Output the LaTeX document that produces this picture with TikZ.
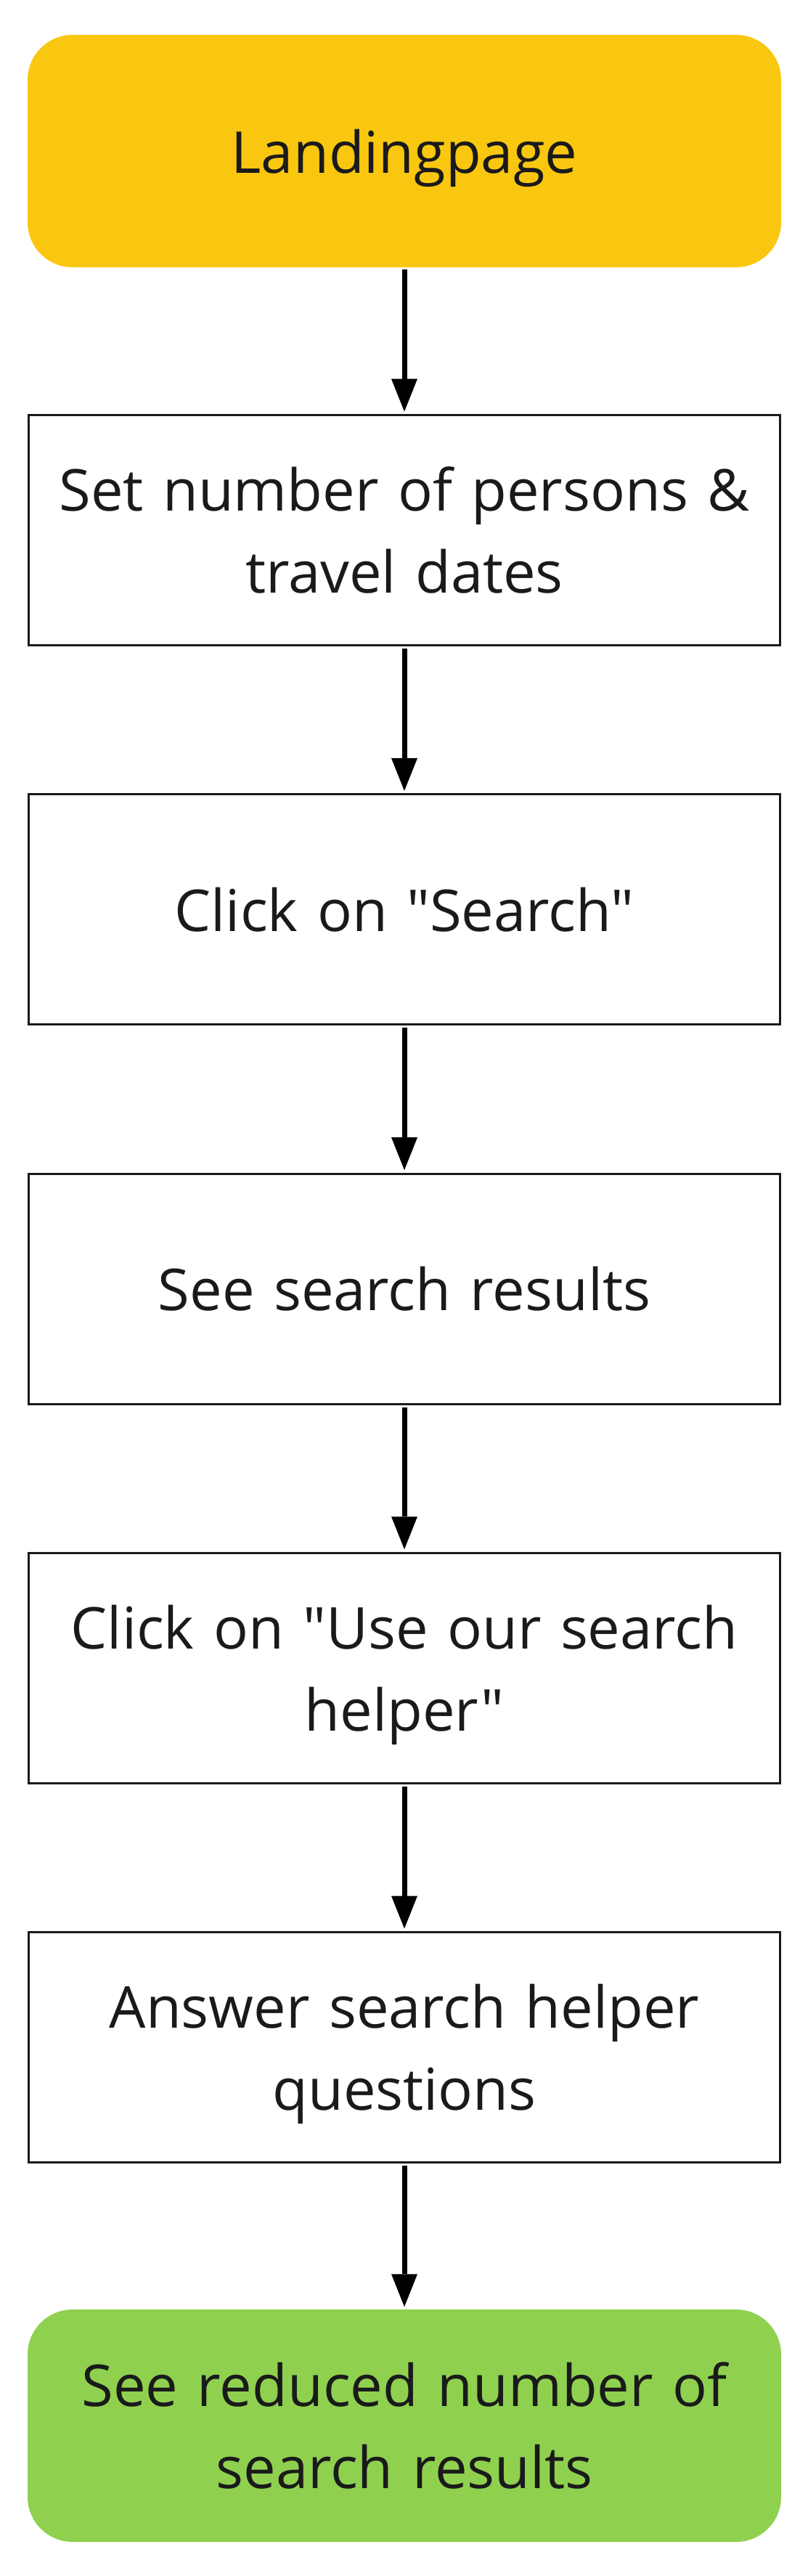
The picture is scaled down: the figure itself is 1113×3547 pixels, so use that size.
\documentclass[tikz,border=0pt]{standalone}
\usepackage{fontspec}
\usetikzlibrary{arrows.meta}
\newfontfamily\boxfam{Open Sans}
\newcommand\boxfont{\boxfam\fontsize{79.5}{113}\selectfont}
\newcommand\nodepth[1]{\raisebox{0pt}[\height][0pt]{#1}}
\definecolor{txt}{HTML}{1A1A1A}
\definecolor{startyellow}{HTML}{FAC710}
\definecolor{endgreen}{HTML}{8FD14F}
\tikzset{
  basebox/.style={minimum width=1038pt, minimum height=320pt, text width=1000pt,
    align=center, font=\boxfont, text=txt, inner sep=0pt},
  termbox/.style={basebox, rounded corners=62pt},
  procbox/.style={basebox, draw=txt, line width=3pt, minimum width=1035pt, minimum height=317pt},
  flow/.style={draw=black, line width=7pt, -{Triangle[length=45pt,width=36pt,line width=0pt]},
    shorten <=3pt, shorten >=3.5pt}
}
\begin{document}
\begin{tikzpicture}[x=1pt,y=-1pt]
\useasboundingbox (0,0) rectangle (1113,3547);
\node[termbox, fill=startyellow, text depth=0pt] (b1) at (557,208) {Landingpage};
\node[procbox] (b2) at (557,730.2) {Set number of persons \&\\travel dates};
\node[procbox] (b3) at (557,1252.4) {Click on "Search"};
\node[procbox] (b4) at (557,1774.6) {See search results};
\node[procbox] (b5) at (557,2296.8) {Click on "Use our search\\\nodepth{helper"}};
\node[procbox] (b6) at (557,2819) {Answer search helper\\\nodepth{questions}};
\node[termbox, fill=endgreen] (b7) at (557,3340) {See reduced number of\\search results};
\draw[flow] (b1.south) -- (b2.north);
\draw[flow] (b2.south) -- (b3.north);
\draw[flow] (b3.south) -- (b4.north);
\draw[flow] (b4.south) -- (b5.north);
\draw[flow] (b5.south) -- (b6.north);
\draw[flow] (b6.south) -- (b7.north);
\end{tikzpicture}
\end{document}
